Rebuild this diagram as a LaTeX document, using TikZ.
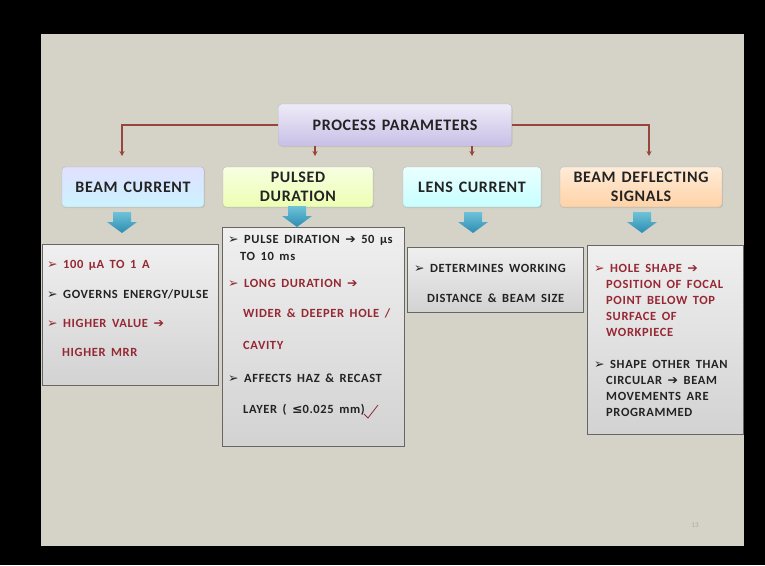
\documentclass[tikz,border=0pt]{standalone}
\usepackage{fontspec}
\setmainfont{Carlito}[WordSpace=1.5]
\newfontfamily\symfont{DejaVu Sans}
\newfontfamily\bodyfont{Carlito}[WordSpace=1.6, LetterSpace=5]
\newfontfamily\headfont{Carlito}[WordSpace=1.4, LetterSpace=4]
\usetikzlibrary{arrows.meta,shadows}

\definecolor{slidebg}{RGB}{213,211,199}
\definecolor{connred}{RGB}{150,70,60}
\definecolor{tred}{RGB}{150,40,52}
\definecolor{tblack}{RGB}{35,35,35}
\definecolor{tealtop}{RGB}{110,195,215}
\definecolor{tealbot}{RGB}{45,140,180}
\definecolor{pptop}{RGB}{238,235,248}
\definecolor{ppbot}{RGB}{200,192,230}

\newcommand\bul{{\symfont\char"27A2}}
\newcommand\rarr{{\symfont\char"2794}}

\tikzset{
  catbox/.style={draw=gray!55, rounded corners=3pt, minimum height=40pt,
    inner sep=2pt, align=center, text=tblack,
    font=\headfont\fontsize{16}{19}\selectfont\bfseries,
    drop shadow={opacity=0.2, shadow xshift=1pt, shadow yshift=-1pt}},
  detail/.style={draw=gray!80!black, top color=gray!12, bottom color=gray!35,
    drop shadow={opacity=0.25, shadow xshift=1pt, shadow yshift=-1pt}},
  txt/.style={anchor=west, inner sep=0pt, font=\bodyfont\fontsize{12.5}{14}\selectfont\bfseries},
  conn/.style={draw=connred, line width=1.2pt, -{Stealth[length=5pt,width=5pt]}},
  tealarr/.pic={
    \path[top color=tealtop, bottom color=tealbot]
      (-9,0) -- (9,0) -- (9,10) -- (15,10) -- (0,21) -- (-15,10) -- (-9,10) -- cycle;
  }
}

\begin{document}
\begin{tikzpicture}[x=1pt,y=-1pt]
  \useasboundingbox (0,0) rectangle (765,565);
  \fill[black] (0,0) rectangle (765,565);
  \fill[slidebg] (41,34) rectangle (744,546);

  % top box
  \node[catbox, top color=pptop, bottom color=ppbot, minimum width=233pt,
    minimum height=42pt] (pp) at (395,125) {PROCESS PARAMETERS};

  % parameter boxes
  \node[catbox, top color=blue!12, bottom color=blue!25!cyan!20, minimum width=142pt] (bc) at (133,187) {BEAM CURRENT};
  \node[catbox, top color=lime!12, bottom color=lime!30, minimum width=150pt] (pd) at (298,187) {PULSED\\DURATION};
  \node[catbox, top color=cyan!8, bottom color=cyan!22, minimum width=138pt] (lc) at (472,187) {LENS CURRENT};
  \node[catbox, top color=orange!15, bottom color=orange!35, minimum width=162pt] (bd) at (641,187) {BEAM DEFLECTING\\SIGNALS};

  % arrow ends
  \coordinate (c1) at (122,156);
  \coordinate (c2) at (315,156);
  \coordinate (c3) at (472,156);
  \coordinate (c4) at (649,156);
  \draw[conn] (pp.west) -| (c1);
  \draw[conn] (pp.south -| c2) -- (c2);
  \draw[conn] (pp.south -| c3) -- (c3);
  \draw[conn] (pp.east) -| (c4);

  % detail boxes
  \node[detail, minimum width=176pt, minimum height=141pt] (d1) at (130,314.5) {};
  \node[detail, minimum width=182pt, minimum height=219pt] (d2) at (313,336.5) {};
  \node[detail, minimum width=176pt, minimum height=65pt] (d3) at (495,279.5) {};
  \node[detail, minimum width=156pt, minimum height=189pt] (d4) at (665,339.5) {};

  \pic at (122,212) {tealarr};
  \pic at (297,206) {tealarr};
  \pic at (473,212) {tealarr};
  \pic at (642,212) {tealarr};

  % beam current
  \node[txt, text=tred] (b1) at (47,265) {\bul\ 100 μA TO 1 A};
  \node[txt, text=tblack] (b2) at (47,294) {\bul\ GOVERNS ENERGY/PULSE};
  \node[txt, text=tred] (b3) at (47,323) {\bul\ HIGHER VALUE \rarr};
  \node[txt, text=tred] (b4) at (62,352) {HIGHER MRR};

  % pulsed duration
  \node[txt, text=tblack] (p1) at (228,240) {\bul\ PULSE DIRATION \rarr\ 50 μs};
  \node[txt, text=tblack] (p2) at (240,256) {TO 10 ms};
  \node[txt, text=tred] (p3) at (228,283) {\bul\ LONG DURATION \rarr};
  \node[txt, text=tred] (p4) at (243,313) {WIDER \& DEEPER HOLE /};
  \node[txt, text=tred] (p5) at (243,345) {CAVITY};
  \node[txt, text=tblack] (p6) at (228,378) {\bul\ AFFECTS HAZ \& RECAST};
  \node[txt, text=tblack] (p7) at (243,410) {LAYER ( {\symfont ≤}0.025 mm)};
  \draw[tred, line width=0.8pt] (364,414) -- (368,418) -- (378,405);

  % lens current
  \node[txt, text=tblack] (l1) at (414,268) {\bul\ DETERMINES WORKING};
  \node[txt, text=tblack] (l2) at (427,298) {DISTANCE \& BEAM SIZE};

  % beam deflecting signals
  \node[txt, text=tred] (s1) at (594,268) {\bul\ HOLE SHAPE \rarr};
  \node[txt, text=tred] (s2) at (606,284) {POSITION OF FOCAL};
  \node[txt, text=tred] (s3) at (606,300) {POINT BELOW TOP};
  \node[txt, text=tred] (s4) at (606,316) {SURFACE OF};
  \node[txt, text=tred] (s5) at (606,332) {WORKPIECE};
  \node[txt, text=tblack] (s6) at (594,364) {\bul\ SHAPE OTHER THAN};
  \node[txt, text=tblack] (s7) at (606,380) {CIRCULAR \rarr\ BEAM};
  \node[txt, text=tblack] (s8) at (606,396) {MOVEMENTS ARE};
  \node[txt, text=tblack] (s9) at (606,412) {PROGRAMMED};

  \node[font=\fontsize{7}{8}\selectfont, text=gray!70] (pg) at (695,525) {13};
\end{tikzpicture}
\end{document}
